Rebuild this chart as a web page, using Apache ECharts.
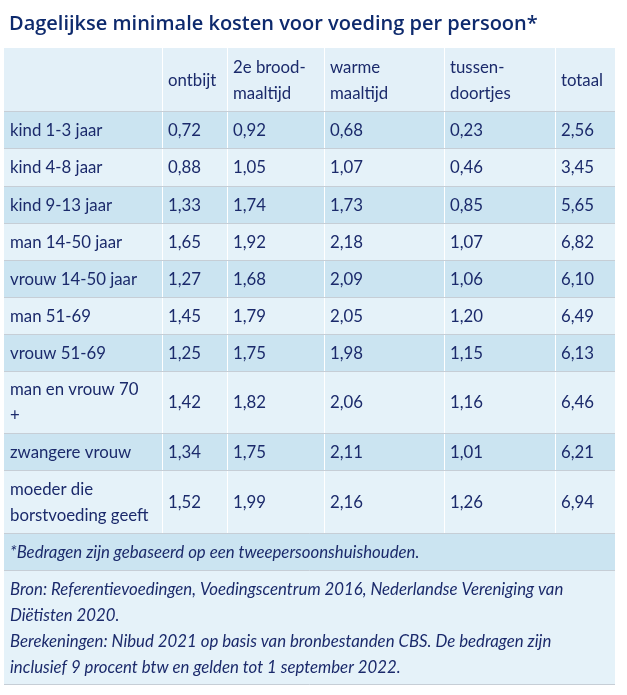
<!DOCTYPE html>
<html>
<head>
<meta charset="utf-8">
<script src="https://cdn.jsdelivr.net/npm/echarts@6/dist/echarts.min.js"></script>
<style>
html,body{margin:0;padding:0;background:#fff;}
#main{width:627px;height:695px;}
</style>
</head>
<body>
<div id="main"></div>
<script>
// ---- data ----
var title = 'Dagelijkse minimale kosten voor voeding per persoon*';
var columns = ['', 'ontbijt', '2e brood-\nmaaltijd', 'warme\nmaaltijd', 'tussen-\ndoortjes', 'totaal'];
var categories = ['kind 1-3 jaar', 'kind 4-8 jaar', 'kind 9-13 jaar', 'man 14-50 jaar', 'vrouw 14-50 jaar',
  'man 51-69', 'vrouw 51-69', 'man en vrouw 70\n+', 'zwangere vrouw', 'moeder die\nborstvoeding geeft'];
var ontbijt = [0.72, 0.88, 1.33, 1.65, 1.27, 1.45, 1.25, 1.42, 1.34, 1.52];
var broodmaaltijd = [0.92, 1.05, 1.74, 1.92, 1.68, 1.79, 1.75, 1.82, 1.75, 1.99];
var warmeMaaltijd = [0.68, 1.07, 1.73, 2.18, 2.09, 2.05, 1.98, 2.06, 2.11, 2.16];
var tussendoortjes = [0.23, 0.46, 0.85, 1.07, 1.06, 1.20, 1.15, 1.16, 1.01, 1.26];
var totaal = [2.56, 3.45, 5.65, 6.82, 6.10, 6.49, 6.13, 6.46, 6.21, 6.94];
var footnote = '*Bedragen zijn gebaseerd op een tweepersoonshuishouden.';
var source = 'Bron: Referentievoedingen, Voedingscentrum 2016, Nederlandse Vereniging van\nDiëtisten 2020.\nBerekeningen: Nibud 2021 op basis van bronbestanden CBS. De bedragen zijn\ninclusief 9 procent btw en gelden tot 1 september 2022.';

// ---- layout (pixel units of the hidden value axes) ----
var colB = [0, 158, 223, 320, 440, 551, 611];
var rowB = [0, 63, 100, 138, 175, 212, 249, 286, 323, 385, 422, 485, 522, 637];
var TEXT = '#1b2a6b';
var LIGHT = '#e5f2f9', DARK = '#cbe4f1', HEAD = '#e3f0f8';
var GREY = '#c6ced6';

function fmt(v) { return v.toFixed(2).replace('.', ','); }

var series = [ontbijt, broodmaaltijd, warmeMaaltijd, tussendoortjes, totaal];
var cells = [];
// header
for (var c = 0; c < columns.length; c++) cells.push([0, c, c + 1, columns[c], 'normal', HEAD]);
// body
for (var r = 0; r < categories.length; r++) {
  var fill = (r % 2 === 0) ? DARK : LIGHT;
  cells.push([r + 1, 0, 1, categories[r], 'normal', fill]);
  for (var s = 0; s < series.length; s++) cells.push([r + 1, s + 1, s + 2, fmt(series[s][r]), 'normal', fill]);
}
cells.push([11, 0, 6, footnote, 'italic', DARK]);
cells.push([12, 0, 6, source, 'italic', LIGHT]);

var chart = echarts.init(document.getElementById('main'), null, {renderer: 'canvas'});
chart.setOption({
  animation: false,
  backgroundColor: '#ffffff',
  title: {
    text: title, left: 4, top: 9,
    textStyle: {fontFamily: 'Open Sans', fontSize: 20, fontWeight: 600, color: '#0e2a6d'}
  },
  grid: {left: 4, top: 48, width: 611, height: 637},
  xAxis: {type: 'value', min: 0, max: 611, show: false},
  yAxis: {type: 'value', min: 0, max: 637, inverse: true, show: false},
  series: [{
    type: 'custom',
    coordinateSystem: 'cartesian2d',
    data: cells,
    renderItem: function (params, api) {
      var d = cells[params.dataIndex];
      var row = d[0], c0 = d[1], c1 = d[2];
      var p0 = api.coord([colB[c0], rowB[row]]);
      var p1 = api.coord([colB[c1], rowB[row + 1]]);
      var x0 = Math.round(p0[0]), y0 = Math.round(p0[1]);
      var x1 = Math.round(p1[0]), y1 = Math.round(p1[1]);
      var children = [{
        type: 'rect', shape: {x: x0, y: y0, width: x1 - x0, height: y1 - y0},
        style: {fill: d[5]}, z2: 0
      }];
      if (c0 > 0) children.push({
        type: 'line', shape: {x1: x0 + 0.5, y1: y0, x2: x0 + 0.5, y2: y1},
        style: {stroke: '#ffffff', lineWidth: 1}, z2: 1
      });
      if (row > 0) children.push({
        type: 'line', shape: {x1: x0, y1: y0 + 0.5, x2: x1, y2: y0 + 0.5},
        style: {stroke: GREY, lineWidth: 1}, z2: 2
      });
      if (row === rowB.length - 2) children.push({
        type: 'line', shape: {x1: x0, y1: y1 - 0.5, x2: x1, y2: y1 - 0.5},
        style: {stroke: GREY, lineWidth: 1}, z2: 2
      });
      children.push({
        type: 'text', z2: 3,
        style: {
          text: d[3], x: x0 + 6, y: (y0 + y1) / 2 + 1,
          fill: TEXT, fontFamily: 'Lato', fontSize: 16.8, fontStyle: d[4],
          lineHeight: 26, verticalAlign: 'middle', align: 'left'
        }
      });
      return {type: 'group', children: children};
    }
  }]
});
</script>
</body>
</html>
